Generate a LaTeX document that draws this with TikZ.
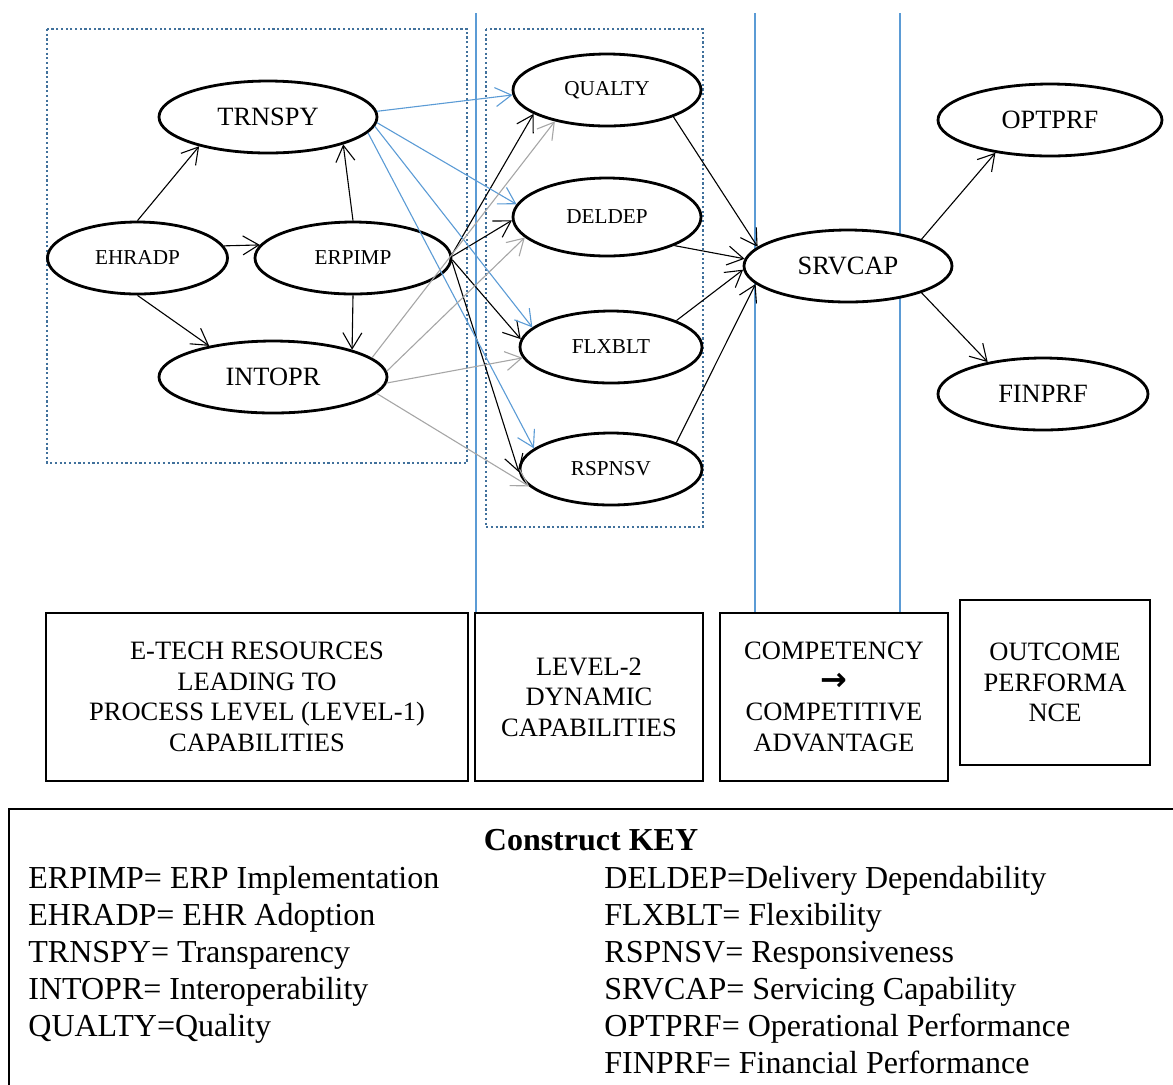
\documentclass[tikz,border=0pt]{standalone}
\usepackage{fontspec}
\setmainfont{Liberation Serif}
\newfontfamily\arrowfont{DejaVu Sans}
\usetikzlibrary{arrows.meta,shapes.geometric}
\definecolor{lineblue}{RGB}{91,155,213}
\definecolor{dotblue}{RGB}{65,113,156}
\definecolor{arrgray}{RGB}{166,166,166}
\begin{document}
\begin{tikzpicture}[x=0.5pt,y=-0.5pt,
 cons/.style={ellipse, draw, line width=1.4pt, fill=white, inner sep=0pt},
 lg/.style={font=\fontsize{13.2}{15}\selectfont},
 sm/.style={font=\fontsize{10.6}{12}\selectfont},
 arr/.style={-{Straight Barb[length=8pt,width=9.5pt]}, line width=0.55pt},
 blk/.style={arr, draw=black},
 blu/.style={arr, draw=lineblue},
 gry/.style={arr, draw=arrgray},
 dotbox/.style={draw=dotblue, line width=1.1pt, dash pattern=on 1.1pt off 1.25pt},
 vline/.style={draw=lineblue, line width=0.6pt},
 labbox/.style={draw, line width=1.2pt, align=center, inner sep=0pt, font=\fontsize{13.25}{15.25}\selectfont},
 keytxt/.style={anchor=base west, inner sep=0pt, font=\fontsize{16}{18.5}\selectfont}]
\useasboundingbox (0,0) rectangle (1173,1084);

% vertical separators
\coordinate (v1t) at (476,13); \coordinate (v1b) at (476,613);
\coordinate (v2t) at (755,13); \coordinate (v2b) at (755,613);
\coordinate (v3t) at (900,13); \coordinate (v3b) at (900,613);
\draw[vline] (v1t) -- (v1b);
\draw[vline] (v2t) -- (v2b);
\draw[vline] (v3t) -- (v3b);

% dotted groups
\draw[dotbox] (47,29) rectangle (467,463);
\draw[dotbox] (486,29) rectangle (703,527);

% constructs
\node[cons,lg,minimum width=109pt,minimum height=36pt] (TRN) at (268,117) {TRNSPY};
\node[cons,sm,minimum width=90pt,minimum height=36pt] (EHR) at (137.5,258) {EHRADP};
\node[cons,sm,minimum width=98pt,minimum height=36pt] (ERP) at (353,258) {ERPIMP};
\node[cons,lg,minimum width=114pt,minimum height=36pt] (INT) at (273,377) {INTOPR};
\node[cons,sm,minimum width=94pt,minimum height=36pt] (QUA) at (607,90) {QUALTY};
\node[cons,sm,minimum width=94pt,minimum height=39pt] (DEL) at (607,217) {DELDEP};
\node[cons,sm,minimum width=91pt,minimum height=36pt] (FLX) at (611,347) {FLXBLT};
\node[cons,sm,minimum width=91pt,minimum height=36pt] (RSP) at (611,469) {RSPNSV};
\node[cons,lg,minimum width=104pt,minimum height=36pt] (SRV) at (848,266) {SRVCAP};
\node[cons,lg,minimum width=112pt,minimum height=36pt] (OPT) at (1050,120) {OPTPRF};
\node[cons,lg,minimum width=105pt,minimum height=36pt] (FIN) at (1043,394) {FINPRF};

% black paths
\draw[blk] (EHR.90) -- (TRN.203);
\draw[blk] (EHR.8) -- (ERP.172);
\draw[blk] (ERP.90) -- (TRN.340);
\draw[blk] (EHR.270) -- (INT.154);
\draw[blk] (ERP.270) -- (INT.19);
\draw[blk] (ERP.2) -- (QUA.198);
\draw[blk] (ERP.1) -- (DEL.182);
\draw[blk] (ERP.359) -- (FLX.175);
\draw[blk] (ERP.358) -- (RSP.182);
\draw[blk] (QUA.338) -- (SRV.168);
\draw[blk] (DEL.337) -- (SRV.176);
\draw[blk] (FLX.22) -- (SRV.182);
\draw[blk] (RSP.22) -- (SRV.191);
\draw[blk] (SRV.20) -- (OPT.211);
\draw[blk] (SRV.340) -- (FIN.150);
% blue paths
\draw[blu] (TRN.3) -- (QUA.183);
\draw[blu] (TRN.357) -- (DEL.172);
\draw[blu] (TRN.355) -- (FLX.166);
\draw[blu] (TRN.351) -- (RSP.165);
% gray paths
\draw[gry] (INT.11) -- (QUA.211);
\draw[gry] (INT.3) -- (DEL.194);
\draw[gry] (INT.357) -- (FLX.187);
\draw[gry] (INT.351) -- (RSP.192);

% stage boxes
\node[labbox, minimum width=211pt, minimum height=84pt] (B1) at (257,697) {E-TECH RESOURCES\\LEADING TO\\PROCESS LEVEL (LEVEL-1)\\CAPABILITIES};
\node[labbox, minimum width=114pt, minimum height=84pt] (B2) at (589,697) {LEVEL-2\\DYNAMIC\\CAPABILITIES};
\node[labbox, minimum width=114pt, minimum height=84pt] (B3) at (834,697) {COMPETENCY\\{\arrowfont\bfseries\fontsize{16}{15.25}\selectfont →}\\COMPETITIVE\\ADVANTAGE};
\node[labbox, minimum width=95pt, minimum height=82.5pt] (B4) at (1055,682.5) {OUTCOME\\PERFORMA\\NCE};

% key
\draw[line width=1.2pt] (9,1090) -- (9,809) -- (1180,809);
\node[anchor=base, inner sep=0pt, font=\bfseries\fontsize{16}{18.5}\selectfont] (kt) at (591,850.5) {Construct KEY};
\foreach \t [count=\i] in {{ERPIMP= ERP Implementation},{EHRADP= EHR Adoption},{TRNSPY= Transparency},{INTOPR= Interoperability},{QUALTY=Quality}}
  \node[keytxt] (kl\i) at (28,{888.5+37*(\i-1)}) {\t};
\foreach \t [count=\i] in {{DELDEP=Delivery Dependability},{FLXBLT= Flexibility},{RSPNSV= Responsiveness},{SRVCAP= Servicing Capability},{OPTPRF= Operational Performance},{FINPRF= Financial Performance}}
  \node[keytxt] (kr\i) at (604,{888.5+37*(\i-1)}) {\t};
\end{tikzpicture}
\end{document}
